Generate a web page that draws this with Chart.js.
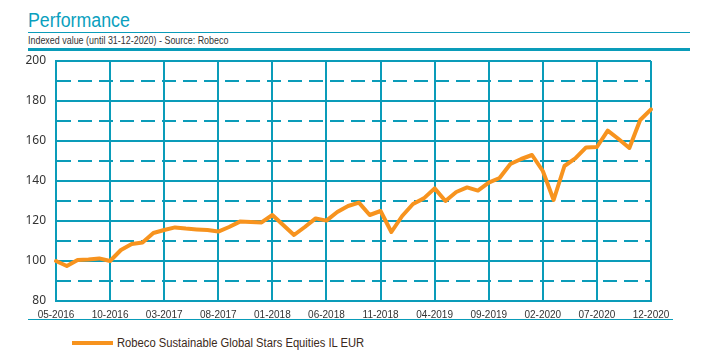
<!DOCTYPE html>
<html>
<head>
<meta charset="utf-8">
<script src="https://cdn.jsdelivr.net/npm/chart.js@4/dist/chart.umd.min.js"></script>
<style>
  html, body { margin: 0; padding: 0; background: #ffffff; }
  body { width: 711px; height: 359px; position: relative; overflow: hidden; }
  .title { position: absolute; left: 28px; top: 10px; font: 20px/20px "Liberation Sans", sans-serif; color: #0aa0be; white-space: nowrap; transform: scaleX(0.89); transform-origin: 0 0; }
  .subtitle { position: absolute; left: 28px; top: 35px; font: 10.5px/10.5px "Liberation Sans", sans-serif; color: #333333; white-space: nowrap; transform: scaleX(0.85); transform-origin: 0 0; }
  .rule { position: absolute; background: #0a9cb9; }
  #wrap { position: absolute; left: 0; top: 40px; width: 711px; height: 290px; }
  .legend { position: absolute; left: 72px; top: 337px; height: 13px; }
  .legend .bar { position: absolute; left: 0; top: 4px; width: 41px; height: 4px; background: #f7931e; }
  .legend .txt { position: absolute; left: 45px; top: 0; font: 12px/12px "Liberation Sans", sans-serif; color: #3b2a20; white-space: nowrap; transform: scaleX(0.935); transform-origin: 0 0; }
</style>
</head>
<body>
<div class="title">Performance</div>
<div class="rule" style="left:28px; top:32px; width:662px; height:1px;"></div>
<div class="subtitle">Indexed value (until 31-12-2020) - Source: Robeco</div>
<div class="rule" style="left:28px; top:48px; width:662px; height:3px;"></div>
<div id="wrap"><canvas id="chart" width="711" height="290"></canvas></div>
<div class="rule" style="left:28px; top:319px; width:645px; height:1px;"></div>
<div class="legend"><div class="bar"></div><div class="txt" id="legendText"></div></div>
<script>
const categories = [
  '05-2016','06-2016','07-2016','08-2016','09-2016','10-2016','11-2016','12-2016',
  '01-2017','02-2017','03-2017','04-2017','05-2017','06-2017','07-2017','08-2017','09-2017','10-2017','11-2017','12-2017',
  '01-2018','02-2018','03-2018','04-2018','05-2018','06-2018','07-2018','08-2018','09-2018','10-2018','11-2018','12-2018',
  '01-2019','02-2019','03-2019','04-2019','05-2019','06-2019','07-2019','08-2019','09-2019','10-2019','11-2019','12-2019',
  '01-2020','02-2020','03-2020','04-2020','05-2020','06-2020','07-2020','08-2020','09-2020','10-2020','11-2020','12-2020'
];
const fundValues = [
  100, 97.5, 100.5, 100.8, 101.3, 100, 105.5, 108.5,
  109.3, 114, 115.5, 116.8, 116.2, 115.8, 115.5, 114.7, 117, 119.7, 119.5, 119.3,
  123, 118, 113, 117, 121.3, 120.2, 124.5, 127.5, 129.2, 123, 125, 114.5,
  122.5, 128.5, 131.3, 136.3, 130, 134.5, 136.8, 135.2, 139.2, 141.5, 148.5, 151,
  153, 145, 130.5, 147.5, 151.3, 156.8, 157, 165.2, 161, 156.5, 170.5, 175.8
];
const xTickLabels = ['05-2016','10-2016','03-2017','08-2017','01-2018','06-2018','11-2018','04-2019','09-2019','02-2020','07-2020','12-2020'];
const yTickLabels = [80, 100, 120, 140, 160, 180, 200];
const seriesName = 'Robeco Sustainable Global Stars Equities IL EUR';

const TEAL = '#0a9cb9';
const ORANGE = '#f7931e';

document.getElementById('legendText').textContent = seriesName;

new Chart(document.getElementById('chart'), {
  type: 'line',
  data: {
    labels: categories,
    datasets: [{
      label: seriesName,
      data: fundValues,
      borderColor: ORANGE,
      backgroundColor: ORANGE,
      borderWidth: 4,
      pointRadius: 0,
      pointHoverRadius: 0,
      tension: 0,
      borderJoinStyle: 'round',
      borderCapStyle: 'round',
      fill: false
    }]
  },
  options: {
    responsive: false,
    animation: false,
    devicePixelRatio: 1,
    layout: { padding: { left: 0, right: 60, top: 21, bottom: 4 } },
    plugins: { legend: { display: false }, tooltip: { enabled: false }, title: { display: false } },
    scales: {
      x: {
        type: 'category',
        offset: false,
        afterFit: (s) => { s.height = 25; },
        grid: {
          offset: false,
          drawTicks: false,
          lineWidth: 2,
          color: (ctx) => (ctx.tick && xTickLabels.includes(categories[ctx.index])) ? TEAL : 'rgba(0,0,0,0)'
        },
        border: { display: true, color: TEAL, width: 2 },
        ticks: {
          autoSkip: false,
          maxRotation: 0,
          minRotation: 0,
          padding: 8,
          color: '#333333',
          font: { family: '"Liberation Sans", sans-serif', size: 10 },
          callback: (val, index) => xTickLabels.includes(categories[index]) ? categories[index] : ''
        }
      },
      y: {
        min: 80,
        max: 200,
        afterFit: (s) => { s.width = 56; },
        grid: {
          drawTicks: false,
          lineWidth: 2,
          color: TEAL
        },
        border: {
          display: true,
          color: TEAL,
          width: 2,
          dash: (ctx) => (ctx.tick && !yTickLabels.includes(ctx.tick.value)) ? [14, 7] : []
        },
        ticks: {
          stepSize: 10,
          padding: 10,
          color: '#333333',
          font: { family: '"Noto Sans", sans-serif', size: 12 },
          callback: (v) => yTickLabels.includes(v) ? String(v) : ''
        }
      }
    }
  }
});
</script>
</body>
</html>
